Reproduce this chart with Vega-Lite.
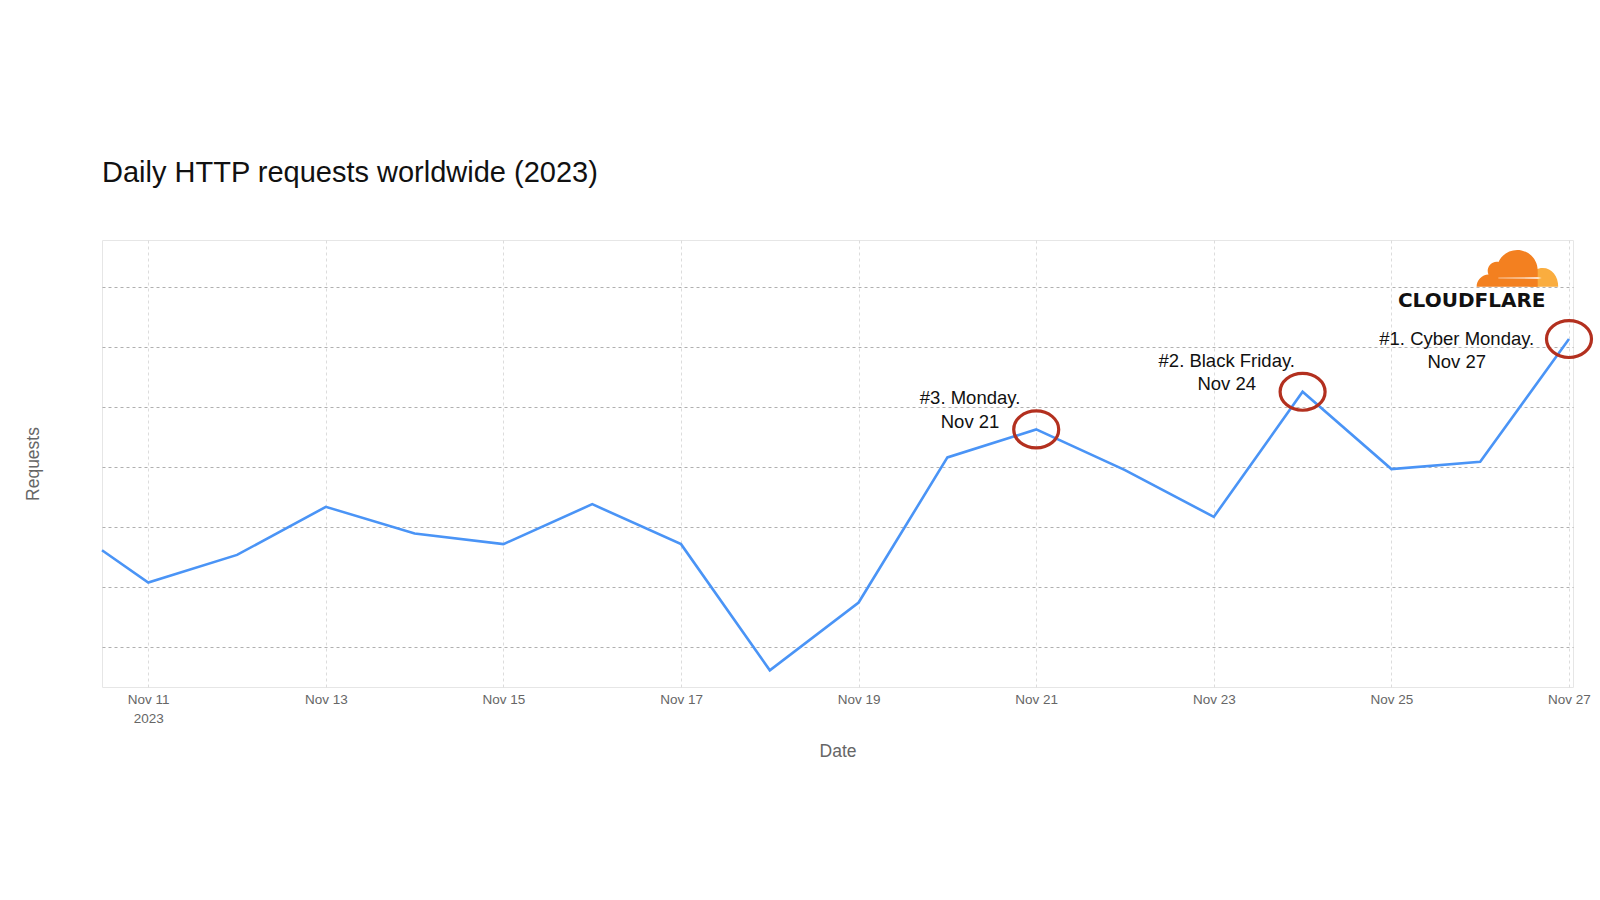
{
  "$schema": "https://vega.github.io/schema/vega-lite/v6.json",
  "width": 1471,
  "height": 447,
  "autosize": {"type": "none"},
  "padding": {"left": 102, "top": 240, "right": 27, "bottom": 213},
  "background": "white",
  "config": {
    "view": {"stroke": "#e6e6e6", "strokeWidth": 1},
    "font": "Liberation Sans"
  },
  "title": {
    "text": "Daily HTTP requests worldwide (2023)",
    "anchor": "start",
    "frame": "group",
    "fontSize": 29,
    "font": "Liberation Sans",
    "fontWeight": "normal",
    "color": "#111111",
    "offset": 52
  },
  "datasets": {
    "requests": [
      {"date": "2023-11-10T11:30:00Z", "value": 2.614},
      {"date": "2023-11-11T00:00:00Z", "value": 2.075},
      {"date": "2023-11-12T00:00:00Z", "value": 2.536},
      {"date": "2023-11-13T00:00:00Z", "value": 3.337},
      {"date": "2023-11-14T00:00:00Z", "value": 2.893},
      {"date": "2023-11-15T00:00:00Z", "value": 2.715},
      {"date": "2023-11-16T00:00:00Z", "value": 3.382},
      {"date": "2023-11-17T00:00:00Z", "value": 2.715},
      {"date": "2023-11-18T00:00:00Z", "value": 0.611},
      {"date": "2023-11-19T00:00:00Z", "value": 1.741},
      {"date": "2023-11-20T00:00:00Z", "value": 4.162},
      {"date": "2023-11-21T00:00:00Z", "value": 4.629},
      {"date": "2023-11-22T00:00:00Z", "value": 3.95},
      {"date": "2023-11-23T00:00:00Z", "value": 3.17},
      {"date": "2023-11-24T00:00:00Z", "value": 5.257},
      {"date": "2023-11-25T00:00:00Z", "value": 3.967},
      {"date": "2023-11-26T00:00:00Z", "value": 4.088},
      {"date": "2023-11-27T00:00:00Z", "value": 6.137}
    ],
    "annotations": [
      {"date": "2023-11-20T06:07:00Z", "value": 4.968, "label": "#3. Monday.\nNov 21"},
      {"date": "2023-11-23T03:30:00Z", "value": 5.594, "label": "#2. Black Friday.\nNov 24"},
      {"date": "2023-11-25T17:40:00Z", "value": 5.962, "label": "#1. Cyber Monday.\nNov 27"}
    ],
    "logo": [
      {"date": "2023-11-26T10:00:00Z", "value": 7.322, "name": "CLOUDFLARE"}
    ]
  },
  "encoding": {
    "x": {
      "field": "date",
      "type": "temporal",
      "scale": {
        "type": "utc",
        "domain": [
          {"year": 2023, "month": 11, "date": 10, "hours": 11, "minutes": 30, "utc": true},
          {"year": 2023, "month": 11, "date": 27, "hours": 1, "minutes": 5, "utc": true}
        ]
      },
      "axis": {
        "title": "Date",
        "values": [
          {"year": 2023, "month": 11, "date": 11, "utc": true},
          {"year": 2023, "month": 11, "date": 13, "utc": true},
          {"year": 2023, "month": 11, "date": 15, "utc": true},
          {"year": 2023, "month": 11, "date": 17, "utc": true},
          {"year": 2023, "month": 11, "date": 19, "utc": true},
          {"year": 2023, "month": 11, "date": 21, "utc": true},
          {"year": 2023, "month": 11, "date": 23, "utc": true},
          {"year": 2023, "month": 11, "date": 25, "utc": true},
          {"year": 2023, "month": 11, "date": 27, "utc": true}
        ],
        "labelExpr": "utcdate(datum.value) == 11 ? [utcFormat(datum.value, '%b %d'), '2023'] : utcFormat(datum.value, '%b %d')",
        "labelColor": "#666666",
        "labelFontSize": 13.5,
        "labelFont": "Liberation Sans",
        "labelPadding": 5,
        "labelLineHeight": 19,
        "labelOverlap": false,
        "labelFlush": false,
        "labelBound": false,
        "ticks": false,
        "domain": false,
        "grid": true,
        "gridColor": "#dcdcdc",
        "gridDash": [3, 3],
        "gridWidth": 1,
        "titleFontSize": 17.5,
        "titleFont": "Liberation Sans",
        "titleFontWeight": "normal",
        "titleColor": "#666666",
        "titlePadding": 18
      }
    },
    "y": {
      "field": "value",
      "type": "quantitative",
      "scale": {"domain": [0.332, 7.789], "nice": false, "zero": false},
      "axis": {
        "title": "Requests",
        "values": [1, 2, 3, 4, 5, 6, 7],
        "labels": false,
        "ticks": false,
        "domain": false,
        "grid": true,
        "gridColor": "#b0b0b0",
        "gridDash": [3, 3],
        "gridWidth": 1,
        "titleFontSize": 17.5,
        "titleFont": "Liberation Sans",
        "titleFontWeight": "normal",
        "titleColor": "#666666",
        "titlePadding": 60
      }
    }
  },
  "layer": [
    {
      "data": {"name": "requests"},
      "mark": {"type": "line", "color": "#4a94f6", "strokeWidth": 2.6, "strokeJoin": "miter"}
    },
    {
      "data": {"name": "requests"},
      "transform": [{"filter": "datum.value > 4.5"}],
      "mark": {
        "type": "point",
        "shape": "M -1 0 A 1 0.82 0 1 1 1 0 A 1 0.82 0 1 1 -1 0 Z",
        "size": 2025,
        "filled": false,
        "stroke": "#b3301f",
        "strokeWidth": 3.2,
        "opacity": 1
      }
    },
    {
      "data": {"name": "annotations"},
      "mark": {
        "type": "text",
        "align": "center",
        "baseline": "middle",
        "lineBreak": "\n",
        "lineHeight": 23.5,
        "dy": -11,
        "fontSize": 18.5,
        "font": "Liberation Sans",
        "color": "#111111"
      },
      "encoding": {"text": {"field": "label"}}
    },
    {
      "data": {"name": "logo"},
      "mark": {
        "type": "point",
        "shape": "M 0.3 0.456 L 0.3 0.2 C 0.4 0.05 0.5 0 0.62 0 C 0.85 0 1 0.2 1 0.456 Z",
        "size": 6724,
        "filled": true,
        "fill": "#faad3f",
        "strokeWidth": 0,
        "opacity": 1
      }
    },
    {
      "data": {"name": "logo"},
      "mark": {
        "type": "point",
        "shape": "M -0.99 0.456 A 0.3 0.3 0 0 1 -0.7 0.16 A 0.22 0.22 0 0 1 -0.456 -0.146 A 0.5 0.5 0 0 1 0.5 0.06 L 0.5 0.456 Z",
        "size": 6724,
        "filled": true,
        "fill": "#f38020",
        "strokeWidth": 0,
        "opacity": 1
      }
    },
    {
      "data": {"name": "logo"},
      "mark": {
        "type": "point",
        "shape": "M -0.46 0.24 L 0.5 0.225 L 0.6 0.245 L 0.5 0.262 L -0.46 0.252 Z",
        "size": 6724,
        "filled": true,
        "fill": "#ffffff",
        "strokeWidth": 0,
        "opacity": 1
      }
    },
    {
      "data": {"name": "logo"},
      "mark": {
        "type": "text",
        "align": "center",
        "baseline": "middle",
        "dx": -45.5,
        "dy": 33,
        "fontSize": 20,
        "font": "DejaVu Sans",
        "fontWeight": "bold",
        "color": "#111111"
      },
      "encoding": {"text": {"field": "name"}}
    }
  ]
}
